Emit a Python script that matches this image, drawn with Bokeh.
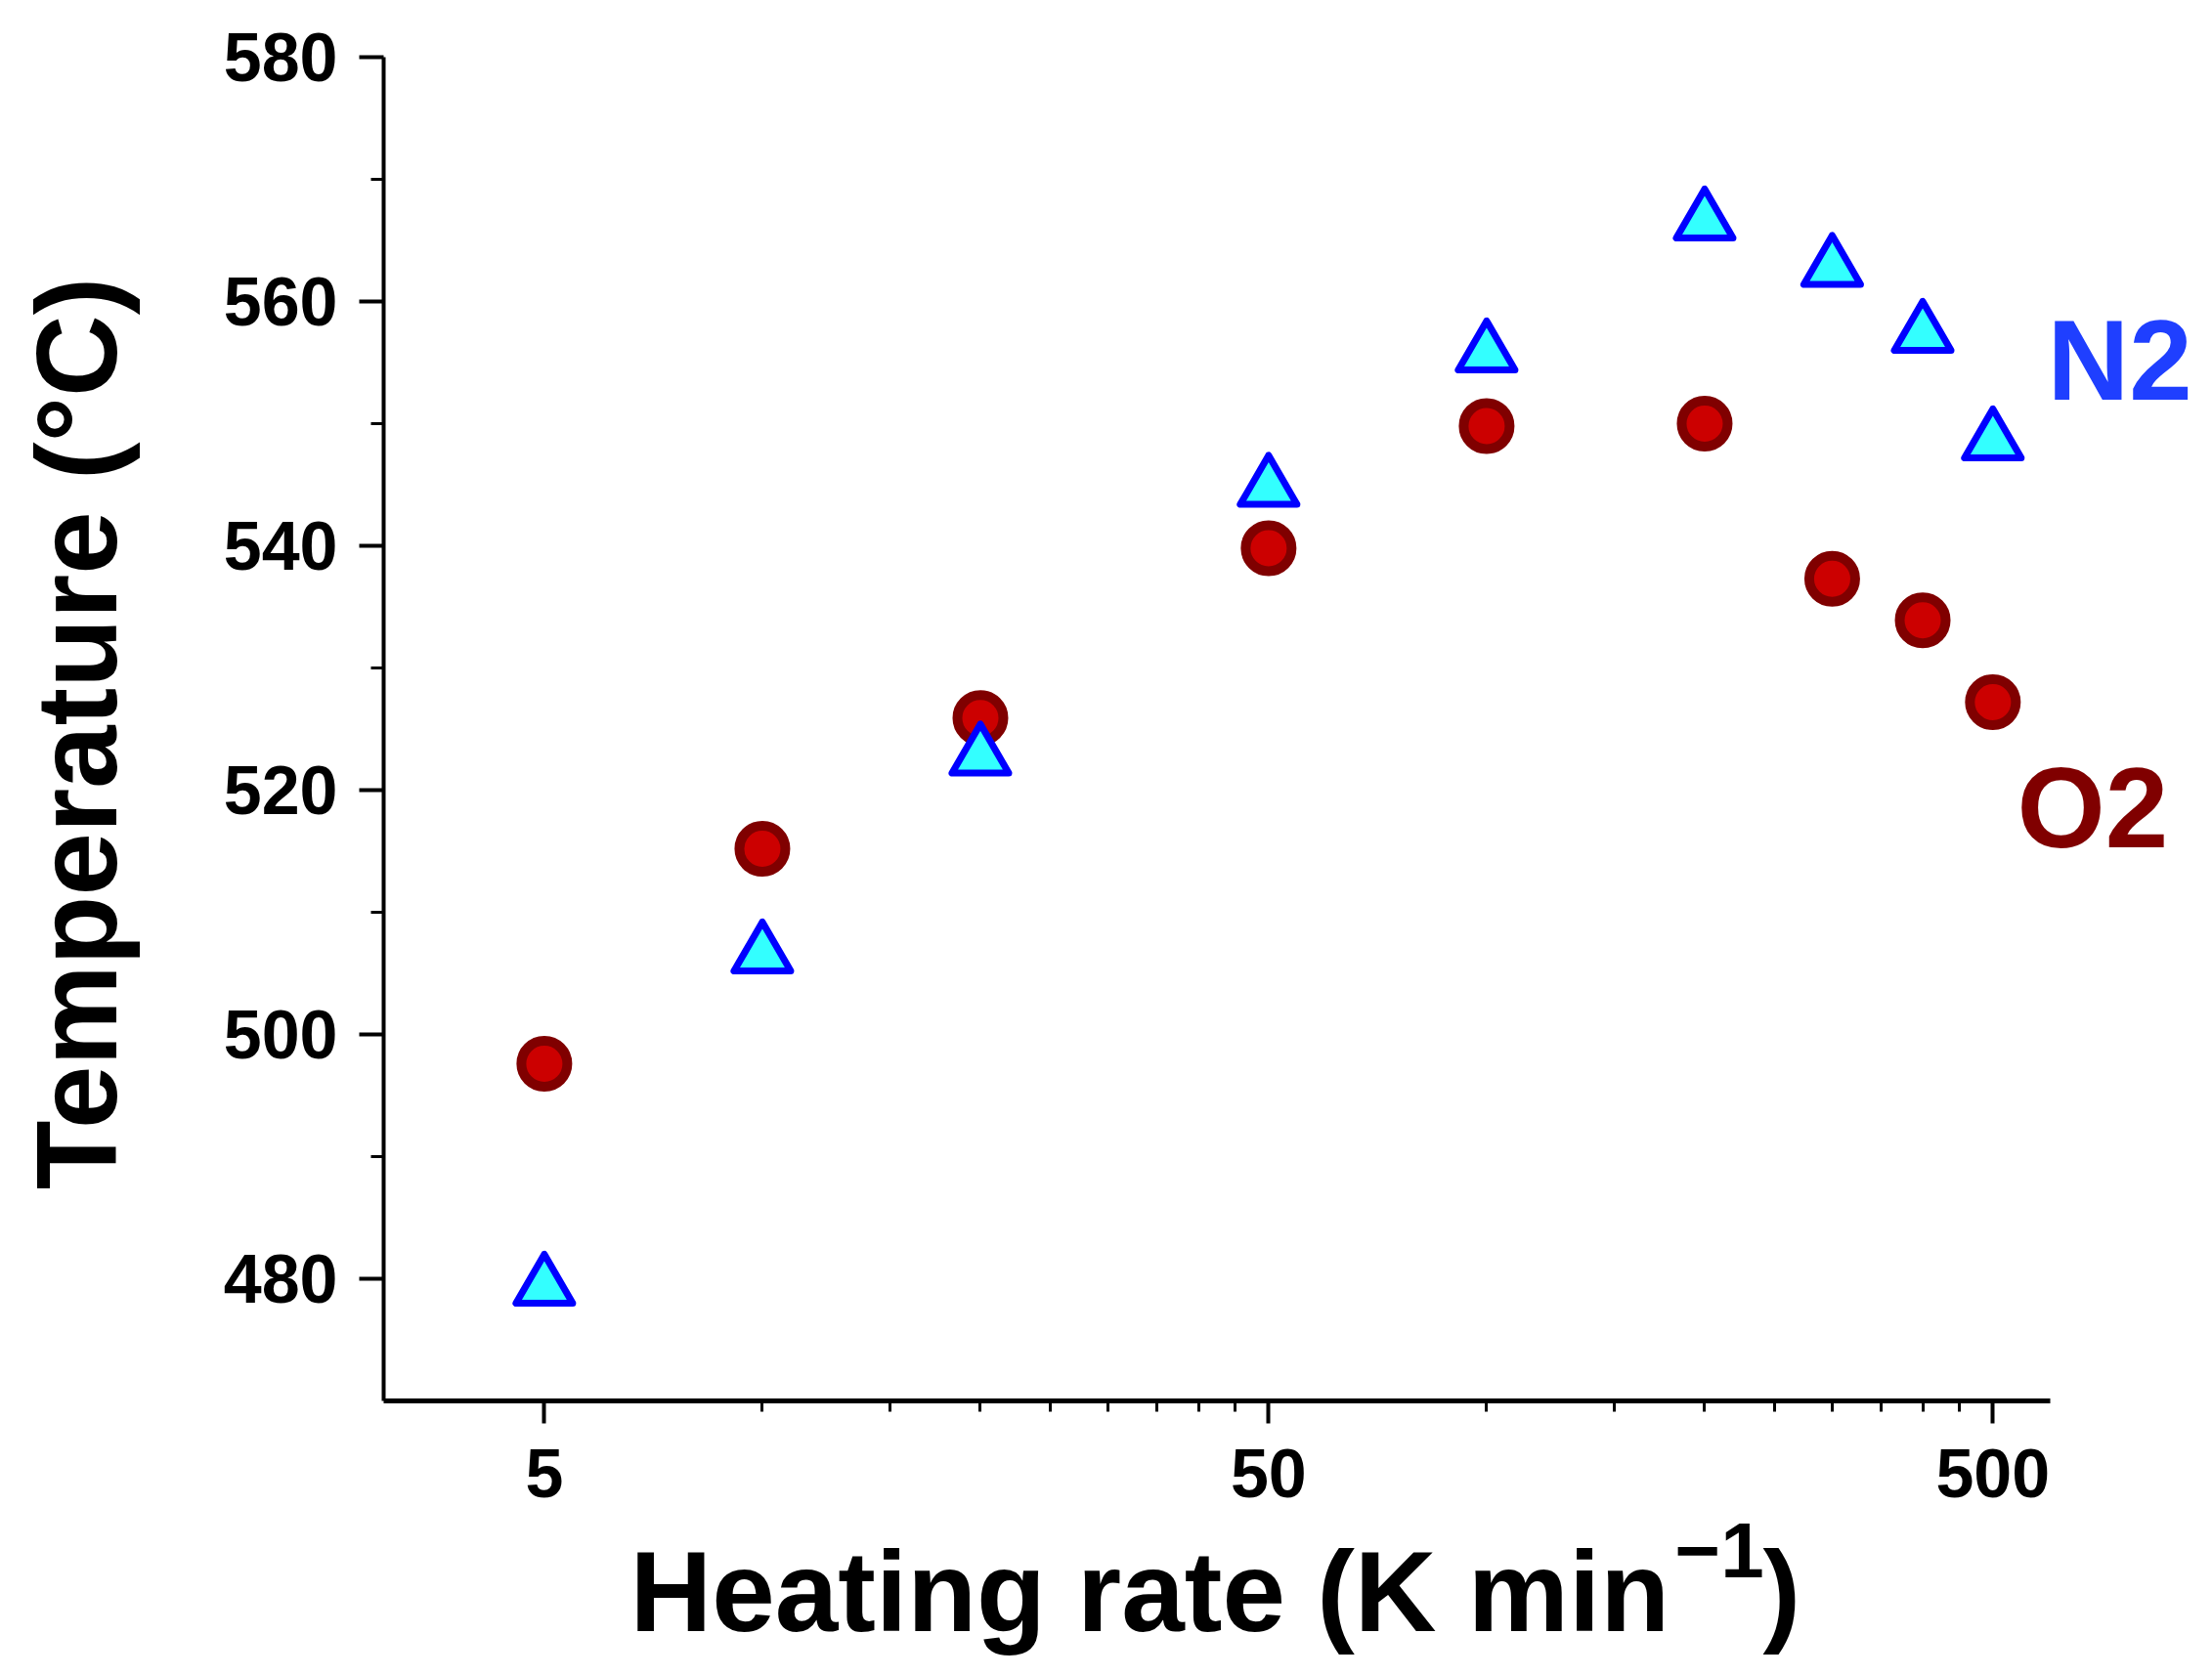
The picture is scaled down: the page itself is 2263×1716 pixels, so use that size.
import math
from bokeh.plotting import figure
from bokeh.models import FixedTicker, Range1d, Label, ColumnDataSource
from bokeh.transform import dodge
from bokeh.embed import file_html
from bokeh.resources import INLINE

# ---- data ----
rates = [5, 10, 20, 50, 100, 200, 300, 400, 500]          # K/min
t_o2 = [497.6, 515.2, 525.9, 539.8, 549.8, 550.0, 537.3, 533.9, 527.2]
t_n2 = [480.0, 507.2, 523.4, 545.4, 556.4, 567.2, 563.4, 558.0, 549.2]

x_major = [5, 50, 500]
x_minor = [10, 15, 20, 25, 30, 35, 40, 45,
           100, 150, 200, 250, 300, 350, 400, 450]
y_major = [480, 500, 520, 540, 560, 580]
y_minor = [490, 510, 530, 550, 570]
x_lo, x_hi = 3, 600
y_lo, y_hi = 470, 580

FONT = "Liberation Sans"

# ---- layout (pixels) ----
# The plotting frame covers the whole canvas; the axes are pinned at the
# data edges (fixed_location + bounds) so that all titles and labels can be
# placed freely without being clipped.
W, H = 2247, 1700
AX_L, AX_R, AX_T, AX_B = 392, 2097, 58, 1433
lpp = math.log10(x_hi / x_lo) / (AX_R - AX_L)      # log10 units per pixel
x_start = x_lo * 10 ** (-AX_L * lpp)
x_end = x_hi * 10 ** ((W - AX_R) * lpp)
ypp = (y_hi - y_lo) / (AX_B - AX_T)
y_start = y_lo - (H - AX_B) * ypp
y_end = y_hi + AX_T * ypp

p = figure(width=W, height=H, x_axis_type="log",
           x_range=Range1d(x_start, x_end), y_range=Range1d(y_start, y_end),
           output_backend="svg", toolbar_location=None,
           min_border_left=0, min_border_right=0,
           min_border_top=0, min_border_bottom=0)
p.outline_line_color = None
p.grid.visible = False
p.background_fill_color = "white"
p.border_fill_color = "white"

src = ColumnDataSource(dict(rate=rates, o2=t_o2, n2=t_n2))

# O2 circles
p.scatter("rate", "o2", source=src, marker="circle", size=47,
          fill_color="#CC0000", line_color="#800000", line_width=10)
# N2 triangles: Bokeh centres a triangle on its centroid; shift it so the
# middle of the symbol's height sits on the value (as in the original)
TRI = 58
tri_shift = -(TRI * math.sqrt(3) / 2) / 6 * ypp
p.scatter("rate", dodge("n2", tri_shift), source=src, marker="triangle",
          size=TRI, fill_color="#33FFFF", line_color="#0000FF",
          line_width=7, line_join="round")

for ax in (p.xaxis[0], p.yaxis[0]):
    ax.axis_line_width = 4
    ax.axis_line_color = "black"
    ax.major_tick_line_width = 4
    ax.minor_tick_line_width = 3
    ax.major_tick_in = 0
    ax.minor_tick_in = 0
    ax.major_label_text_font = FONT
    ax.major_label_text_font_style = "bold"
    ax.major_label_text_font_size = "70px"
    ax.major_label_text_color = "black"

xa = p.xaxis[0]
xa.fixed_location = y_lo
xa.bounds = (x_lo, x_hi)
xa.axis_line_width = 5
xa.ticker = FixedTicker(ticks=x_major, minor_ticks=x_minor)
xa.major_label_overrides = {5: "5", 50: "50", 500: "500"}
xa.major_tick_out = 23
xa.minor_tick_out = 11
xa.major_label_standoff = 26

ya = p.yaxis[0]
ya.fixed_location = x_lo
ya.bounds = (y_lo, y_hi)
ya.ticker = FixedTicker(ticks=y_major, minor_ticks=y_minor)
ya.major_tick_out = 25
ya.minor_tick_out = 13
ya.major_label_standoff = 22


def lab(text, x, y, size, color="black", angle=0.0, align="left"):
    p.add_layout(Label(x=x, y=y, x_units="canvas", y_units="canvas",
                       text=text, text_font=FONT, text_font_style="bold",
                       text_font_size=size, text_color=color, angle=angle,
                       text_baseline="middle", text_align=align))

# axis titles (x title with a real superscript)
lab("Temperature (°C)", 78, 750, "116px", angle=math.pi / 2, align="center")
lab("Heating rate (K min", 644, 1628, "116px")
lab("\u22121", 1713, 1586, "80px")
lab(")", 1803, 1628, "116px")

# series labels
lab("N2", 2094, 368, "116px", "#1F3FFF")
lab("O2", 2063, 826, "116px", "#800000")

open("out.html", "w").write(file_html(p, INLINE))
